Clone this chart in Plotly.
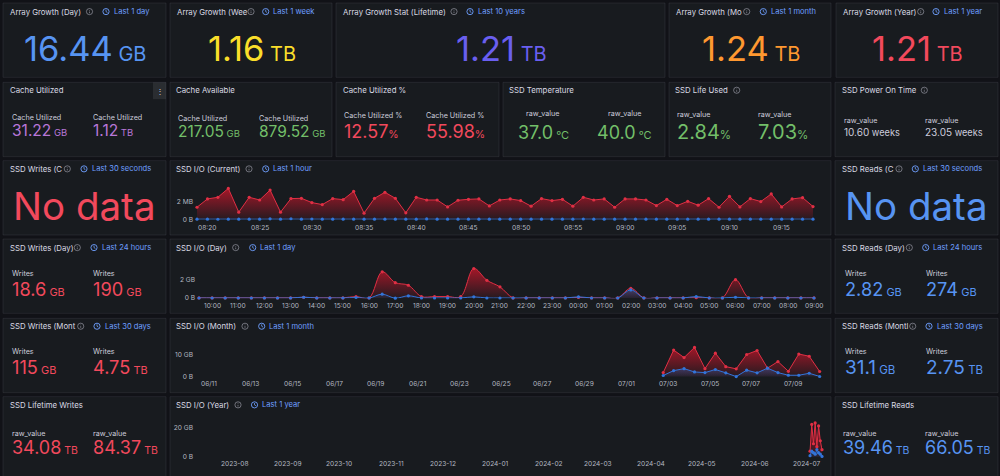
import pandas as pd
import plotly.graph_objects as go

# ---------------- data ----------------
row1_titles = ["Array Growth (Day)", "Array Growth (Wee", "Array Growth Stat (Lifetime)", "Array Growth (Mo", "Array Growth (Year)"]
row1_ranges = ["Last 1 day", "Last 1 week", "Last 10 years", "Last 1 month", "Last 1 year"]
row1_values = ["16.44", "1.16", "1.21", "1.24", "1.21"]
row1_units = ["GB", "TB", "TB", "TB", "TB"]

cache_utilized = ["31.22", "1.12"]
cache_utilized_units = ["GB", "TB"]
cache_available = ["217.05", "879.52"]
cache_available_units = ["GB", "GB"]
cache_pct = ["12.57", "55.98"]
ssd_temp = ["37.0", "40.0"]
ssd_life = ["2.84", "7.03"]
power_on = ["10.60", "23.05"]
writes_day = ["18.6", "190"]
writes_day_units = ["GB", "GB"]
reads_day = ["2.82", "274"]
reads_day_units = ["GB", "GB"]
writes_month = ["115", "4.75"]
writes_month_units = ["GB", "TB"]
reads_month = ["31.1", "2.75"]
reads_month_units = ["GB", "TB"]
lifetime_writes = ["34.08", "84.37"]
lifetime_reads = ["39.46", "66.05"]

current_writes_mb = [1.40, 2.35, 2.54, 3.56, 0.83, 2.54, 2.23, 3.37, 0.83, 2.39, 2.42, 1.93, 1.70, 2.39, 2.27,
                     3.22, 0.72, 2.42, 3.11, 2.42, 0.76, 2.54, 2.23, 2.23, 1.44, 2.20, 2.31, 2.35, 1.55, 2.23,
                     2.35, 2.16, 1.52, 2.39, 2.16, 2.31, 1.52, 2.54, 2.23, 2.35, 1.40, 2.35, 2.35, 2.23, 1.59,
                     2.31, 1.59, 2.08, 1.63, 2.39, 1.40, 2.65, 1.44, 2.39, 2.05, 2.92, 1.44, 2.35, 2.50, 1.48]
current_reads_mb = [0.03, 0.03, 0.02, 0.03, 0.03, 0.03, 0.03, 0.07, 0.03, 0.08, 0.03, 0.05, 0.03, 0.03, 0.03,
                    0.03, 0.03, 0.03, 0.03, 0.03, 0.03, 0.03, 0.06, 0.03, 0.03, 0.03, 0.03, 0.03, 0.03, 0.03,
                    0.03, 0.03, 0.03, 0.03, 0.03, 0.03, 0.03, 0.05, 0.03, 0.03, 0.03, 0.03, 0.03, 0.03, 0.03,
                    0.03, 0.03, 0.03, 0.03, 0.03, 0.03, 0.03, 0.03, 0.03, 0.03, 0.03, 0.03, 0.03, 0.03, 0.03]

day_writes_gb = [0.03, 0.03, 0.03, 0.03, 0.03, 0.03, 0.03, 0.03, 0.10, 0.03, 0.03, 0.03, 0.17, 0.03, 2.80, 1.65,
                 1.37, 0.17, 0.17, 0.17, 0.17, 3.15, 1.90, 1.20, 0.03, 0.03, 0.03, 0.03, 0.03, 0.08, 0.03, 0.03,
                 0.03, 1.05, 0.03, 0.03, 0.03, 0.03, 0.05, 0.03, 0.03, 1.96, 0.03, 0.03, 0.03, 0.03, 0.03, 0.03]
day_reads_gb = [0.02, 0.02, 0.02, 0.02, 0.02, 0.02, 0.02, 0.02, 0.10, 0.02, 0.02, 0.02, 0.07, 0.02, 0.42, 0.00,
                0.25, 0.02, 0.02, 0.02, 0.02, 0.14, 0.02, 0.02, 0.02, 0.02, 0.02, 0.02, 0.02, 0.14, 0.02, 0.02,
                0.02, 0.88, 0.02, 0.02, 0.02, 0.02, 0.17, 0.02, 0.02, 0.10, 0.02, 0.02, 0.02, 0.02, 0.02, 0.02]

month_writes_gb = [1.9, 12.1, 8.7, 13.3, 3.7, 10.7, 4.6, 3.6, 10.1, 11.9, 3.9, 6.9, 2.5, 10.3, 9.3, 2.4]
month_reads_gb = [0.6, 2.8, 3.7, 2.2, 1.9, 3.3, 1.8, 0.1, 3.0, 1.8, 3.9, 1.9, 0.7, 0.7, 1.6, 0.15]

year_writes_gb = [4.0, 22.0, 9.0, 23.0, 7.0, 21.0, 11.0, 5.0]
year_reads_gb = [1.0, 4.0, 3.0, 2.0, 5.0, 3.0, 2.0, 0.5]

current_times = pd.date_range("2024-07-10 08:19", periods=len(current_writes_mb), freq="1min")
day_times = pd.date_range("2024-07-09 09:30", periods=len(day_writes_gb), freq="30min")
month_times = pd.date_range("2024-07-02 18:40", periods=len(month_writes_gb), freq="12h")
year_times = pd.date_range("2024-07-03", periods=len(year_writes_gb), freq="1D")

current_ticks = pd.date_range("2024-07-10 08:20", "2024-07-10 09:15", freq="5min")
day_ticks = pd.date_range("2024-07-09 10:00", "2024-07-10 09:00", freq="1h")
month_ticks = pd.date_range("2024-06-11", "2024-07-09", freq="2D")
year_ticks = pd.date_range("2023-08-01", "2024-07-01", freq="MS")

# ---------------- style ----------------
W, H = 1000, 476
FONT = "Inter"
BG = "#111217"
PANEL = "#181b1f"
BORDER = "rgba(204,204,220,0.09)"
TXT = "#ccccdc"
LINK = "#6e9fff"
RED = "#f2495c"
BLUE = "#5794f2"
GREEN = "#73bf69"
PURPLE = "#b877d9"
TICKCOL = "#b4b8c2"
ROW1_COLORS = [BLUE, "#fade2a", "#6a5ff0", "#ff9830", RED]


def X(px):
    return px / W


def Y(py):
    return 1 - py / H


shapes = []
ann = []


def panel(x0, y0, x1, y1):
    shapes.append(dict(type="rect", xref="paper", yref="paper", x0=X(x0), x1=X(x1), y0=Y(y1), y1=Y(y0),
                       fillcolor=PANEL, line=dict(color=BORDER, width=1), layer="below"))


def text(x, y, s, size, color, anchor="left", weight=400):
    ann.append(dict(x=X(x), y=Y(y), xref="paper", yref="paper", text=s, showarrow=False,
                    xanchor=anchor, yanchor="middle", borderpad=0,
                    font=dict(family=FONT, size=size, color=color, weight=weight)))


def info(cx, cy):
    r = 3.1
    col = "rgba(204,204,220,0.6)"
    shapes.append(dict(type="circle", xref="paper", yref="paper", x0=X(cx - r), x1=X(cx + r),
                       y0=Y(cy + r), y1=Y(cy - r), line=dict(color=col, width=0.8)))
    shapes.append(dict(type="line", xref="paper", yref="paper", x0=X(cx), x1=X(cx),
                       y0=Y(cy + 1.6), y1=Y(cy - 0.1), line=dict(color=col, width=0.8)))
    shapes.append(dict(type="line", xref="paper", yref="paper", x0=X(cx), x1=X(cx),
                       y0=Y(cy - 1.0), y1=Y(cy - 1.6), line=dict(color=col, width=0.8)))


def clock(cx, cy):
    r = 3.1
    shapes.append(dict(type="circle", xref="paper", yref="paper", x0=X(cx - r), x1=X(cx + r),
                       y0=Y(cy + r), y1=Y(cy - r), line=dict(color=LINK, width=0.9)))
    path = f"M {X(cx)} {Y(cy - 1.9)} L {X(cx)} {Y(cy)} L {X(cx + 1.4)} {Y(cy + 0.9)}"
    shapes.append(dict(type="path", xref="paper", yref="paper", path=path, line=dict(color=LINK, width=0.8)))


def title(x, y, s, info_x=None, clock_x=None, link=None):
    text(x, y, s, 7.8, "#d8d9e3")
    if info_x is not None:
        info(info_x, y)
    if clock_x is not None:
        clock(clock_x, y)
        text(clock_x + 6.5, y, link, 7.6, LINK)


def val(num, unit, usize, space=True):
    sep = " " if space else ""
    return f"{num}<span style='font-size:{usize}px'>{sep}{unit}</span>"


# ---------------- panels ----------------
COLS = [(3, 166), (170, 332), (336, 499), (503, 665), (669, 831), (835, 998)]

# row 1
r1_boxes = [(3, 166), (170, 332), (336, 665), (669, 831), (836, 998)]
r1_info = [89.5, 251, 454, 746.7, 920.7]
r1_clock = [106, 265.7, 470, 763.3, 936]
for i, (a, b) in enumerate(r1_boxes):
    panel(a, 3, b, 78)
    title(a + 6, 11.7, row1_titles[i], r1_info[i], r1_clock[i], row1_ranges[i])
    text((a + b) / 2 + 0.5, 49, val(row1_values[i], row1_units[i], 20), 34.5, ROW1_COLORS[i], anchor="center")

# row 2
for (a, b) in COLS:
    panel(a, 83, b, 158)
title(8.7, 91, "Cache Utilized")
title(175, 91, "Cache Available")
title(341.7, 91, "Cache Utilized %")
title(508, 91, "SSD Temperature")
title(674, 91, "SSD Life Used", 736.7)
title(840.7, 91, "SSD Power On Time", 924.3)
# menu button on first panel
shapes.append(dict(type="rect", xref="paper", yref="paper", x0=X(153), x1=X(166), y0=Y(100), y1=Y(83),
                   fillcolor="rgba(204,204,220,0.10)", line=dict(width=0)))
text(159.5, 91.5, "⋮", 8, TXT, anchor="center")

LBL = 7.2
for i, xl in enumerate([10.7, 91.7]):
    text(xl, 118.5, "Cache Utilized", LBL, TXT)
    text(xl, 132, val(cache_utilized[i], cache_utilized_units[i], 9.5), 15.5, PURPLE)
for i, xl in enumerate([177, 258.3]):
    text(xl, 119.5, "Cache Utilized", LBL, TXT)
    text(xl, 132.5, val(cache_available[i], cache_available_units[i], 9.5), 15.5, GREEN)
for i, xl in enumerate([343.3, 424.5]):
    text(xl, 116.5, "Cache Utilized %", LBL, TXT)
    text(xl, 132.5, val(cache_pct[i], "%", 10.5, space=False), 18, RED)
for i, xc in enumerate([543.3, 624.5]):
    text(xc, 114.5, "raw_value", LBL, TXT, anchor="center")
    text(xc, 133.8, val(ssd_temp[i], "°C", 11), 18, GREEN, anchor="center")
for i, xl in enumerate([675.7, 757]):
    text(xl, 115.5, "raw_value", LBL, TXT)
    text(xl, 132.8, val(ssd_life[i], "%", 11.5, space=False), 20, GREEN)
for i, xl in enumerate([842.7, 924]):
    text(xl, 121.5, "raw_value", LBL, TXT)
    text(xl, 133.5, val(power_on[i], "weeks", 9.2), 10, TXT)

# row 3
panel(3, 162, 166, 237)
panel(170, 162, 831, 237)
panel(835, 162, 998, 237)
title(8.7, 170.3, "SSD Writes (C", 67.3, 84, "Last 30 seconds")
title(175, 170.3, "SSD I/O (Current)", 249, 265.7, "Last 1 hour")
title(840.7, 170.3, "SSD Reads (C", 899, 915.3, "Last 30 seconds")
text(84.5, 207.5, "No data", 38.5, RED, anchor="center")
text(916.5, 207.5, "No data", 38.5, BLUE, anchor="center")

# row 4
panel(3, 241, 166, 316)
panel(170, 241, 831, 316)
panel(835, 241, 998, 316)
title(8.7, 249.7, "SSD Writes (Day)", 77.3, 94, "Last 24 hours")
title(175, 249.7, "SSD I/O (Day)", 235.7, 252.7, "Last 1 day")
title(840.7, 249.7, "SSD Reads (Day)", 909.3, 925.7, "Last 24 hours")
for i, xl in enumerate([10.7, 91.7]):
    text(xl, 275.5, "Writes", LBL, TXT)
    text(xl, 291, val(writes_day[i], writes_day_units[i], 11), 18.2, RED)
for i, xl in enumerate([843.5, 924.5]):
    text(xl, 276.2, "Writes", LBL, TXT)
    text(xl, 291.3, val(reads_day[i], reads_day_units[i], 11), 18.2, BLUE)

# row 5
panel(3, 321, 166, 396)
panel(170, 321, 831, 396)
panel(835, 321, 998, 396)
title(8.7, 329, "SSD Writes (Mont", 80.7, 97, "Last 30 days")
title(175, 329, "SSD I/O (Month)", 245, 261.7, "Last 1 month")
title(840.7, 329, "SSD Reads (Montl", 912.7, 929, "Last 30 days")
for i, xl in enumerate([10.7, 91.7]):
    text(xl, 354.5, "Writes", LBL, TXT)
    text(xl, 370.5, val(writes_month[i], writes_month_units[i], 11), 18.2, RED)
for i, xl in enumerate([843.5, 924.5]):
    text(xl, 354, "Writes", LBL, TXT)
    text(xl, 370.3, val(reads_month[i], reads_month_units[i], 11.5), 19, BLUE)

# row 6
panel(3, 400, 166, 482)
panel(170, 400, 831, 482)
panel(835, 400, 998, 482)
title(8.7, 408.3, "SSD Lifetime Writes")
title(175, 408.3, "SSD I/O (Year)", 238, 254.5, "Last 1 year")
title(840.7, 408.3, "SSD Lifetime Reads")
for i, xl in enumerate([11, 92]):
    text(xl, 437, "raw_value", LBL, TXT)
    text(xl, 450.8, val(lifetime_writes[i], "TB", 10.5), 18, RED)
for i, xl in enumerate([842, 923.5]):
    text(xl, 437, "raw_value", LBL, TXT)
    text(xl, 450.8, val(lifetime_reads[i], "TB", 10.5), 18, BLUE)

# ---------------- time series ----------------
fig = go.Figure()

charts = [
    dict(t=current_times, w=current_writes_mb, r=current_reads_mb, xpx=(197, 813), y0=221.3, ppu=8.8,
         ymax=4.0, tickvals=[0, 2], ticktext=["0 B", "2 MB"], lab_y=229.5,
         xr=["2024-07-10 08:19", "2024-07-10 09:18"], xticks=current_ticks, fmt="%H:%M", shape="linear"),
    dict(t=day_times, w=day_writes_gb, r=day_reads_gb, xpx=(199, 814), y0=300.7, ppu=9.5,
         ymax=3.75, tickvals=[0, 2], ticktext=["0 B", "2 GB"], lab_y=308.5,
         xr=["2024-07-09 09:30", "2024-07-10 09:00"], xticks=day_ticks, fmt="%H:%M", shape="spline"),
    dict(t=month_times, w=month_writes_gb, r=month_reads_gb, xpx=(197, 820), y0=380.0, ppu=2.23,
         ymax=15.0, tickvals=[0, 10], ticktext=["0 B", "10 GB"], lab_y=387.7,
         xr=["2024-06-10 10:12", "2024-07-10 07:04"], xticks=month_ticks, fmt="%m/%d", shape="linear"),
    dict(t=year_times, w=year_writes_gb, r=year_reads_gb, xpx=(197, 822), y0=461.0, ppu=1.5,
         ymax=25.0, tickvals=[0, 20], ticktext=["0 B", "20 GB"], lab_y=467.5,
         xr=["2023-07-10", "2024-07-10"], xticks=year_ticks, fmt="%Y-%m", shape="linear"),
]

TICKFONT = dict(family=FONT, size=6.6, color=TICKCOL)
layout_axes = {}
for i, c in enumerate(charts):
    n = "" if i == 0 else str(i + 1)
    xa, ya = "x" + n, "y" + n
    ytop = c["y0"] - c["ymax"] * c["ppu"]
    fig.add_trace(go.Scatter(
        x=c["t"], y=c["w"], xaxis=xa, yaxis=ya, mode="lines+markers",
        line=dict(color="#e02f44", width=1, shape=c["shape"]),
        marker=dict(size=3.2, color="#e02f44"), fill="tozeroy",
        fillgradient=dict(type="vertical", start=0, stop=max(c["w"]),
                          colorscale=[[0, "rgba(196,22,42,0.06)"], [1, "rgba(196,22,42,0.80)"]]),
        cliponaxis=False, hoverinfo="skip"))
    fig.add_trace(go.Scatter(
        x=c["t"], y=c["r"], xaxis=xa, yaxis=ya, mode="lines+markers",
        line=dict(color="#3274d9", width=1, shape=c["shape"]),
        marker=dict(size=3.2, color="#3274d9"), fill="tozeroy",
        fillgradient=dict(type="vertical", start=0, stop=max(max(c["r"]), 0.01),
                          colorscale=[[0, "rgba(50,116,217,0.05)"], [1, "rgba(50,116,217,0.35)"]]),
        cliponaxis=False, hoverinfo="skip"))
    layout_axes["xaxis" + n] = dict(
        domain=[X(c["xpx"][0]), X(c["xpx"][1])], anchor=ya, type="date", range=c["xr"],
        showticklabels=False, showgrid=False, zeroline=False, showline=False, ticks="")
    layout_axes["yaxis" + n] = dict(
        domain=[Y(c["y0"]), Y(ytop)], anchor=xa, range=[0, c["ymax"]], tickvals=c["tickvals"],
        ticktext=c["ticktext"], showgrid=False, zeroline=False, showline=False, ticks="",
        tickfont=TICKFONT, ticklabelstandoff=3)
    # time tick labels placed on the axis' own date scale
    for tk in c["xticks"]:
        ann.append(dict(x=tk.strftime("%Y-%m-%d %H:%M:%S"), xref=xa, y=Y(c["lab_y"]), yref="paper",
                        text=tk.strftime(c["fmt"]), showarrow=False, xanchor="center", yanchor="middle",
                        borderpad=0, font=TICKFONT))

fig.update_layout(
    width=W, height=H, margin=dict(l=0, r=0, t=0, b=0),
    paper_bgcolor=BG, plot_bgcolor="rgba(0,0,0,0)", showlegend=False,
    shapes=shapes, annotations=ann, hovermode=False, **layout_axes)

fig.write_html("out.html", config=dict(displayModeBar=False))
